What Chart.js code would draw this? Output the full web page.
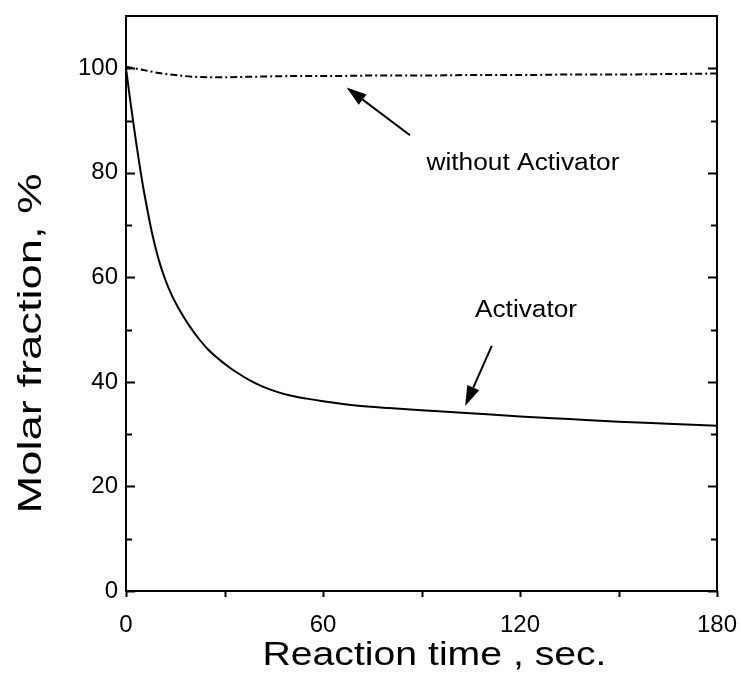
<!DOCTYPE html>
<html><head><meta charset="utf-8">
<script src="https://cdn.jsdelivr.net/npm/chart.js@4"></script>
<style>html,body{margin:0;padding:0;background:#fff}#wrap{width:741px;height:695px}</style>
</head><body><div id="wrap"><canvas id="c" width="741" height="695"></canvas></div>
<script>
// ---- data ----
const timeActivator = [0,1,2,3,4,5,6,7,8,10,12,14,16,18,20,22,25,28,31,34,38,42,46,50,55,60,70,80,90,100,110,120,135,150,165,180];
const fracActivator = [100,95.2,90.6,86.2,82.0,78.1,74.6,71.3,68.3,63.3,59.5,56.5,54.1,52.0,50.1,48.4,46.2,44.5,43.0,41.7,40.2,39.0,38.1,37.4,36.8,36.3,35.5,35.0,34.6,34.2,33.8,33.4,32.9,32.4,32.0,31.6];
const timeNoActivator = [0,5,10,15,20,25,30,40,50,60,75,90,105,120,135,150,165,180];
const fracNoActivator = [100.3,99.7,99.1,98.7,98.4,98.3,98.3,98.4,98.5,98.5,98.6,98.6,98.7,98.7,98.8,98.8,98.9,99.0];
const xTickLabels = [0,60,120,180];
const yTickLabels = [0,20,40,60,80,100];
const xTickMarks = [0,30,60,90,120,150,180];
const yTickMarks = [0,10,20,30,40,50,60,70,80,90,100];
const xTitle = 'Reaction time , sec.';
const yTitle = 'Molar fraction, %';
const labelNoActivator = 'without Activator';
const labelActivator = 'Activator';
// arrow tip / tail and label anchors in data units
const arrowNoActivator = {tip:[67.2,96.3], tail:[86.5,87.2]};
const arrowActivator = {tip:[103.3,35.4], tail:[111.4,46.9]};
const textNoActivator = [91.5,80.5];
const textActivator = [106.3,52.5];

const FONT = '"Liberation Sans", Arial, Helvetica, sans-serif';

function stretchedText(ctx, text, x, y, size, width, rot, align) {
  ctx.save();
  ctx.translate(x, y);
  if (rot) ctx.rotate(rot);
  ctx.font = size + 'px ' + FONT;
  const w = ctx.measureText(text).width;
  ctx.scale(width / w, 1);
  ctx.textAlign = align || 'center';
  ctx.textBaseline = 'alphabetic';
  ctx.fillStyle = '#000';
  ctx.fillText(text, 0, 0);
  ctx.restore();
}

function arrow(ctx, x, y, a) {
  const x1 = x.getPixelForValue(a.tail[0]), y1 = y.getPixelForValue(a.tail[1]);
  const x2 = x.getPixelForValue(a.tip[0]), y2 = y.getPixelForValue(a.tip[1]);
  const ang = Math.atan2(y2 - y1, x2 - x1);
  const L = 20, H = 6.5;
  const bx = x2 - L * Math.cos(ang), by = y2 - L * Math.sin(ang);
  ctx.beginPath(); ctx.moveTo(x1, y1); ctx.lineTo(bx, by); ctx.lineWidth = 2; ctx.strokeStyle = '#000'; ctx.stroke();
  ctx.beginPath();
  ctx.moveTo(x2, y2);
  ctx.lineTo(bx + H * Math.sin(ang), by - H * Math.cos(ang));
  ctx.lineTo(bx - H * Math.sin(ang), by + H * Math.cos(ang));
  ctx.closePath(); ctx.fillStyle = '#000'; ctx.fill();
}

const decor = {
  id: 'decor',
  afterDraw(chart) {
    const {ctx, chartArea: a, scales: {x, y}} = chart;
    ctx.save();
    ctx.strokeStyle = '#000';
    ctx.lineWidth = 2;
    ctx.strokeRect(a.left, a.top, a.right - a.left, a.bottom - a.top);
    ctx.beginPath();
    yTickMarks.forEach(v => {
      const p = Math.round(y.getPixelForValue(v)) + 0.5;
      const len = (v % 20 === 0) ? 9 : 6;
      ctx.moveTo(a.left, p); ctx.lineTo(a.left + len, p);
      ctx.moveTo(a.right, p); ctx.lineTo(a.right - len, p);
    });
    xTickMarks.forEach(v => {
      const p = Math.round(x.getPixelForValue(v)) + 0.5;
      ctx.moveTo(p, a.bottom); ctx.lineTo(p, a.bottom + 6);
    });
    ctx.stroke();
    arrow(ctx, x, y, arrowNoActivator);
    arrow(ctx, x, y, arrowActivator);
    stretchedText(ctx, labelNoActivator, x.getPixelForValue(textNoActivator[0]), y.getPixelForValue(textNoActivator[1]), 23, 193, 0, 'left');
    stretchedText(ctx, labelActivator, x.getPixelForValue(textActivator[0]), y.getPixelForValue(textActivator[1]), 23, 102, 0, 'left');
    stretchedText(ctx, xTitle, (a.left + a.right) / 2 + 13, 665, 33, 344, 0, 'center');
    stretchedText(ctx, yTitle, 41, (a.top + a.bottom) / 2 + 40, 33, 340, -Math.PI / 2, 'center');
    ctx.restore();
  }
};

new Chart(document.getElementById('c'), {
  type: 'scatter',
  data: {
    datasets: [
      {
        label: 'Activator',
        data: timeActivator.map((t, i) => ({x: t, y: fracActivator[i]})),
        showLine: true, borderColor: '#000', borderWidth: 2, pointRadius: 0,
        cubicInterpolationMode: 'monotone'
      },
      {
        label: 'without Activator',
        data: timeNoActivator.map((t, i) => ({x: t, y: fracNoActivator[i]})),
        showLine: true, borderColor: '#000', borderWidth: 2, pointRadius: 0,
        borderDash: [7, 3, 2, 3], cubicInterpolationMode: 'monotone'
      }
    ]
  },
  options: {
    responsive: false, animation: false, devicePixelRatio: 1,
    layout: {padding: {left: 0, right: 24, top: 16, bottom: 0}},
    plugins: {legend: {display: false}, tooltip: {enabled: false}},
    scales: {
      x: {
        type: 'linear', min: 0, max: 180,
        afterBuildTicks: s => { s.ticks = xTickLabels.map(v => ({value: v})); },
        afterFit: s => { s.height = 104; s.paddingLeft = 0; s.paddingRight = 0; },
        grid: {display: false, drawTicks: false}, border: {display: false},
        ticks: {color: '#000', padding: 20, maxRotation: 0, autoSkip: false, font: {family: FONT, size: 24}}
      },
      y: {
        type: 'linear', min: 0, max: 110,
        afterBuildTicks: s => { s.ticks = yTickLabels.map(v => ({value: v})); },
        afterFit: s => { s.width = 126; s.paddingTop = 0; s.paddingBottom = 0; },
        grid: {display: false, drawTicks: false}, border: {display: false},
        ticks: {color: '#000', padding: 8, autoSkip: false, font: {family: FONT, size: 24}}
      }
    }
  },
  plugins: [decor]
});
</script>
</body></html>
